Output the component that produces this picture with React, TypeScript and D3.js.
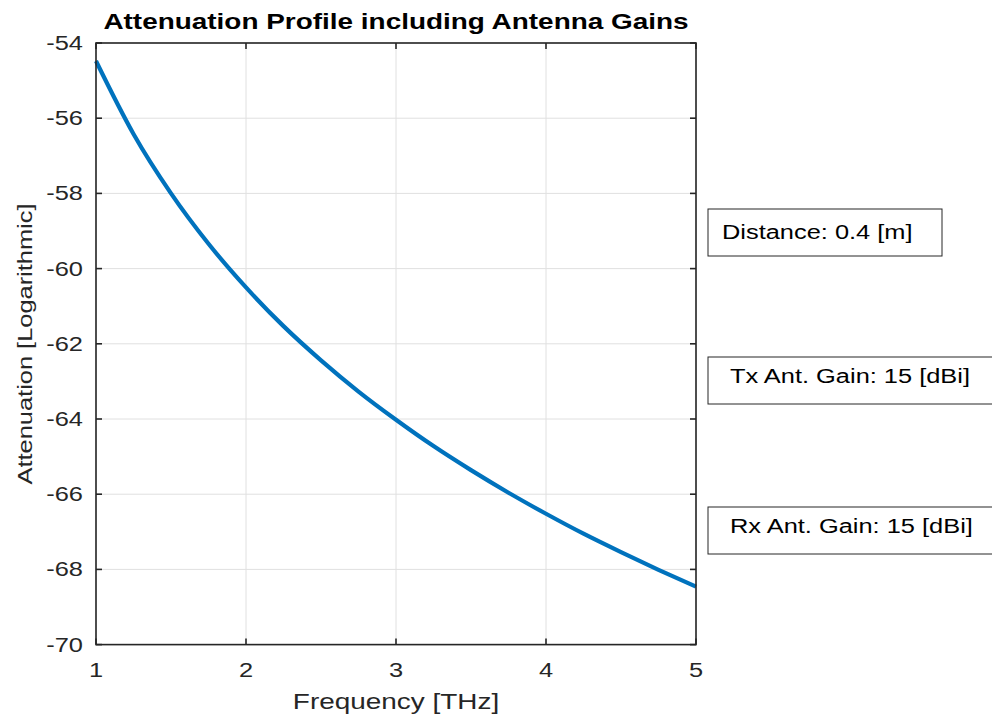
import React from "react";
import * as d3 from "d3";

const frequencies = [1, 1.25, 1.5, 1.75, 2, 2.25, 2.5, 2.75, 3, 3.25, 3.5, 3.75, 4, 4.25, 4.5, 4.75, 5];
const attenuation = [-54.48, -56.42, -58.0, -59.34, -60.5, -61.53, -62.44, -63.27, -64.02, -64.72, -65.36, -65.96, -66.52, -67.05, -67.54, -68.01, -68.46];
const xTicks = [1, 2, 3, 4, 5];
const yTicks = [-70, -68, -66, -64, -62, -60, -58, -56, -54];
const title = "Attenuation Profile including Antenna Gains";
const xLabel = "Frequency [THz]";
const yLabel = "Attenuation [Logarithmic]";
const infoBoxes = ["Distance: 0.4 [m]", "Tx Ant. Gain: 15 [dBi]", "Rx Ant. Gain: 15 [dBi]"];

const W = 992, H = 717;
const L = 96, R = 696, T = 43, B = 644.6;
const SX = 1.27;
const FONT = "'Liberation Sans', Arial, Helvetica, sans-serif";
const AX = "#262626";

function SText({ x, y, children, size, anchor = "start", rotate = 0, weight = "normal", fill = AX }: any) {
  return (
    <text
      transform={`translate(${x},${y}) rotate(${rotate}) scale(${SX},1)`}
      fontSize={size}
      fontFamily={FONT}
      fontWeight={weight}
      textAnchor={anchor}
      fill={fill}
    >
      {children}
    </text>
  );
}

export default function App() {
  const x = d3.scaleLinear().domain([1, 5]).range([L, R]);
  const y = d3.scaleLinear().domain([-70, -54]).range([B, T]);
  const data = frequencies.map((f, i) => [f, attenuation[i]] as [number, number]);
  const line = d3.line<[number, number]>().x(d => x(d[0])).y(d => y(d[1])).curve(d3.curveMonotoneX);
  const tickLen = 6;
  const boxes = [
    { x0: 708, x1: 942, y0: 209, y1: 256, tx: 722, ty: 239 },
    { x0: 708, x1: 1000, y0: 357, y1: 404, tx: 730, ty: 383 },
    { x0: 708, x1: 1000, y0: 507, y1: 554, tx: 730, ty: 533 },
  ];
  return (
    <svg width={W} height={H} style={{ position: "absolute", left: 0, top: 0, background: "#fff" }}>
      <rect x={0} y={0} width={W} height={H} fill="#fff" />
      {xTicks.map(t => (
        <line key={"gx" + t} x1={x(t)} x2={x(t)} y1={T} y2={B} stroke="#e0e0e0" strokeWidth={1} />
      ))}
      {yTicks.map(t => (
        <line key={"gy" + t} x1={L} x2={R} y1={y(t)} y2={y(t)} stroke="#e0e0e0" strokeWidth={1} />
      ))}
      <path d={line(data) || ""} fill="none" stroke="#0072BD" strokeWidth={4.2} />
      <rect x={L} y={T} width={R - L} height={B - T} fill="none" stroke={AX} strokeWidth={1.6} />
      {xTicks.map(t => (
        <g key={"tx" + t}>
          <line x1={x(t)} x2={x(t)} y1={B} y2={B - tickLen} stroke={AX} strokeWidth={1.6} />
          <line x1={x(t)} x2={x(t)} y1={T} y2={T + tickLen} stroke={AX} strokeWidth={1.6} />
          <SText x={x(t)} y={677} size={20} anchor="middle">{t}</SText>
        </g>
      ))}
      {yTicks.map(t => (
        <g key={"ty" + t}>
          <line x1={L} x2={L + tickLen} y1={y(t)} y2={y(t)} stroke={AX} strokeWidth={1.6} />
          <line x1={R} x2={R - tickLen} y1={y(t)} y2={y(t)} stroke={AX} strokeWidth={1.6} />
          <SText x={83} y={y(t) + 7} size={20} anchor="end">{t}</SText>
        </g>
      ))}
      <SText x={(L + R) / 2} y={29} size={22} anchor="middle" weight="bold" fill="#000">{title}</SText>
      <SText x={(L + R) / 2} y={709} size={22} anchor="middle">{xLabel}</SText>
      <SText x={32} y={344} size={20} anchor="middle" rotate={-90}>{yLabel}</SText>
      {boxes.map((b, i) => (
        <g key={"box" + i}>
          <rect x={b.x0} y={b.y0} width={b.x1 - b.x0} height={b.y1 - b.y0} fill="#fff" stroke={AX} strokeWidth={1} />
          <SText x={b.tx} y={b.ty} size={20} fill="#000">{infoBoxes[i]}</SText>
        </g>
      ))}
    </svg>
  );
}
